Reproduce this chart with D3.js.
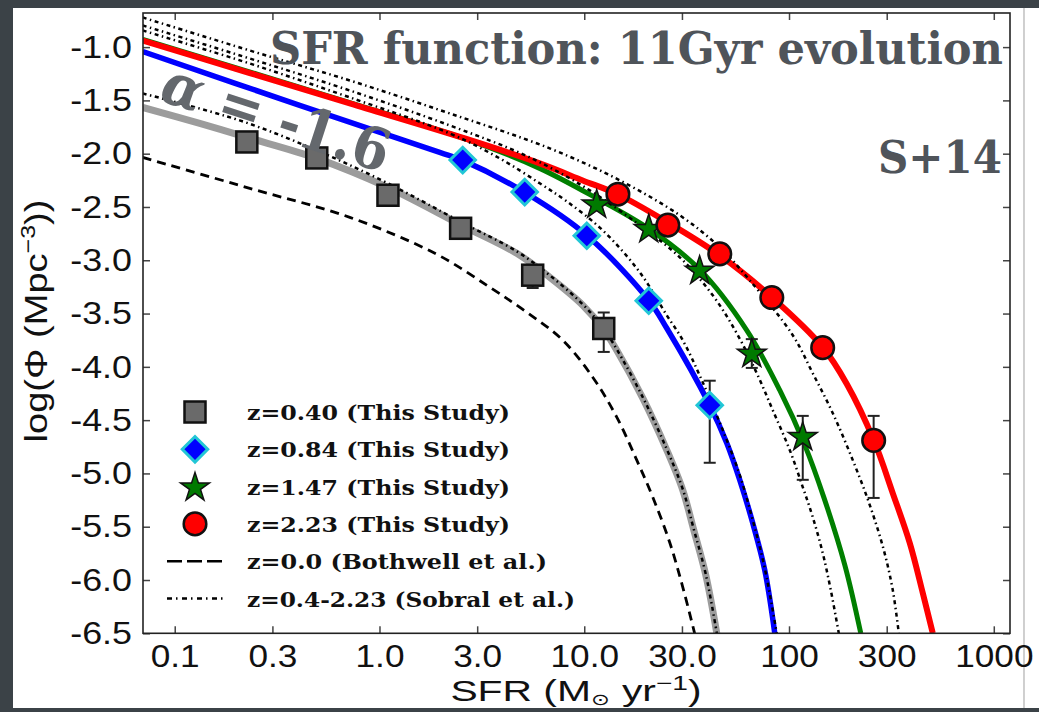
<!DOCTYPE html>
<html><head><meta charset="utf-8">
<script src="https://cdn.jsdelivr.net/npm/d3@7"></script>
<style>html,body{margin:0;padding:0;background:#3b4247;} svg{display:block;}</style>
</head><body>
<svg id="chart" width="1039" height="712"></svg>
<script>
// ---------- axes ----------
const xDomain = [0.07, 1200];
const yDomain = [-6.5, -0.68];
const xTicks = [0.1, 0.3, 1, 3, 10, 30, 100, 300, 1000];
const xTickLabels = ["0.1", "0.3", "1.0", "3.0", "10.0", "30.0", "100", "300", "1000"];
const yTicks = [-1.0, -1.5, -2.0, -2.5, -3.0, -3.5, -4.0, -4.5, -5.0, -5.5, -6.0, -6.5];
const yTickLabels = ["-1.0", "-1.5", "-2.0", "-2.5", "-3.0", "-3.5", "-4.0", "-4.5", "-5.0", "-5.5", "-6.0", "-6.5"];

// ---------- data points (this study) ----------
const z040SFR = [0.225, 0.494, 1.10, 2.49, 5.60, 12.45];
const z040Phi = [-1.89, -2.04, -2.39, -2.70, -3.14, -3.64];
const z040Hi  = [null, null, null, null, -3.10, -3.49];
const z040Lo  = [null, null, null, null, -3.26, -3.86];

const z084SFR = [2.55, 5.12, 10.29, 20.65, 41.0];
const z084Phi = [-2.06, -2.36, -2.77, -3.38, -4.36];
const z084Hi  = [null, null, null, null, -4.13];
const z084Lo  = [null, null, null, null, -4.90];

const z147SFR = [11.5, 20.65, 36.6, 65.8, 116.7];
const z147Phi = [-2.47, -2.70, -3.09, -3.87, -4.65];
const z147Hi  = [null, null, null, -3.74, -4.46];
const z147Lo  = [null, null, null, -4.01, -5.06];

const z223SFR = [14.6, 25.6, 45.9, 82.4, 146, 259];
const z223Phi = [-2.38, -2.67, -2.94, -3.35, -3.82, -4.69];
const z223Hi  = [null, null, null, null, null, -4.46];
const z223Lo  = [null, null, null, null, null, -5.23];

// ---------- fitted curves ----------
const fit040SFR = [0.0698, 0.1325, 0.225, 0.494, 1.097, 2.52, 4.68, 6.78, 9.83, 12.31, 14.41, 19.31, 25.29, 30.27, 34.26, 39.21, 44.4];
const fit040Phi = [-1.566, -1.716, -1.847, -2.044, -2.316, -2.672, -2.935, -3.160, -3.422, -3.638, -3.844, -4.294, -4.781, -5.156, -5.531, -5.953, -6.5];

const fit084SFR = [0.0698, 0.4077, 1.969, 2.55, 5.12, 10.29, 20.65, 25.3, 41.0, 49.7, 57.5, 66.5, 76.1, 85.2];
const fit084Phi = [-1.041, -1.547, -1.988, -2.063, -2.363, -2.766, -3.375, -3.638, -4.360, -4.716, -5.063, -5.466, -5.906, -6.5];

const fit147SFR = [0.0698, 0.716, 2.76, 6.06, 11.5, 20.65, 36.6, 62.2, 90.1, 119.4, 147.8, 187.3, 224.1];
const fit147Phi = [-0.928, -1.520, -1.876, -2.138, -2.419, -2.703, -3.087, -3.657, -4.219, -4.734, -5.222, -5.860, -6.5];

const fit223SFR = [0.0698, 0.2325, 0.716, 2.61, 6.06, 9.83, 14.58, 25.57, 45.9, 82.4, 146.1, 191.5, 259.4, 321.1, 388.9, 450.0, 503.6];
const fit223Phi = [-0.938, -1.243, -1.529, -1.857, -2.091, -2.251, -2.382, -2.645, -2.954, -3.347, -3.816, -4.160, -4.688, -5.185, -5.654, -6.122, -6.5];

// Bothwell et al. z=0.0
const bothSFR = [0.0698, 0.2325, 0.716, 1.904, 3.456, 5.24, 7.85, 11.0, 14.41, 18.05, 21.6, 26.2, 30.27, 34.6];
const bothPhi = [-2.035, -2.325, -2.597, -2.944, -3.253, -3.488, -3.75, -4.097, -4.472, -4.875, -5.222, -5.653, -6.066, -6.5];

// Sobral et al. z=0.4, 0.84, 1.47, 2.23
const sob040SFR = [0.0698, 0.2077, 0.494, 1.097, 2.52, 4.68, 6.78, 9.83, 12.31, 14.41, 19.31, 25.29, 30.27, 34.26, 39.21, 44.4];
const sob040Phi = [-1.435, -1.688, -1.969, -2.278, -2.644, -2.916, -3.141, -3.413, -3.629, -3.835, -4.285, -4.772, -5.147, -5.522, -5.944, -6.5];
const sob084SFR = [0.0698, 0.2325, 0.716, 2.203, 3.867, 6.06, 8.21, 12.31, 18.67, 25.29, 30.27, 37.5, 47.5, 57.5, 66.5, 76.1, 87.1];
const sob084Phi = [-0.844, -1.154, -1.472, -1.810, -2.044, -2.278, -2.447, -2.719, -3.113, -3.516, -3.750, -4.125, -4.594, -5.016, -5.438, -5.888, -6.5];
const sob147SFR = [0.0698, 0.2325, 0.716, 2.203, 5.42, 10.64, 18.67, 29.27, 42.43, 55.55, 69.6, 83.3, 100.9, 116.7, 130.6, 146.1, 159.9, 175.0];
const sob147Phi = [-0.797, -1.107, -1.407, -1.735, -2.035, -2.344, -2.672, -2.972, -3.329, -3.685, -4.060, -4.407, -4.782, -5.128, -5.410, -5.747, -6.094, -6.5];
const sob223SFR = [0.0698, 0.2325, 0.716, 2.203, 6.78, 14.91, 29.27, 45.9, 64.3, 104.3, 130.6, 163.6, 204.8, 248.0, 290.3, 321.1, 343.6];
const sob223Phi = [-0.722, -1.032, -1.313, -1.622, -1.950, -2.250, -2.578, -2.878, -3.188, -3.703, -4.060, -4.435, -4.875, -5.297, -5.719, -6.094, -6.5];

const legendLabels = ["z=0.40 (This Study)", "z=0.84 (This Study)", "z=1.47 (This Study)", "z=2.23 (This Study)", "z=0.0 (Bothwell et al.)", "z=0.4-2.23 (Sobral et al.)"];
const titleText = "SFR function: 11Gyr evolution";
const refText = "S+14";

// ---------- layout ----------
const L = 143, R = 1010, T = 13, B = 633.3;
const svg = d3.select('#chart');
svg.append('rect').attr('width', 1039).attr('height', 712).attr('fill', '#3b4247');
svg.append('rect').attr('x', 13).attr('y', 8).attr('width', 1026).attr('height', 700).attr('fill', '#ffffff');
svg.append('line').attr('x1', 1024).attr('x2', 1024).attr('y1', 8).attr('y2', 708).attr('stroke', '#b0b0b0').attr('stroke-width', 1.2);

const x = d3.scaleLog().domain(xDomain).range([L, R]);
const y = d3.scaleLinear().domain(yDomain).range([B, T]);

svg.append('defs').append('clipPath').attr('id', 'clip')
  .append('rect').attr('x', L).attr('y', T).attr('width', R - L).attr('height', B - T);

const sansFont = "'Liberation Sans', Arial, Helvetica, sans-serif";
const serifFont = "'DejaVu Serif', serif";

function stretch(sel, k) {
  sel.each(function () {
    const w = this.getComputedTextLength();
    d3.select(this).attr('textLength', w * k).attr('lengthAdjust', 'spacingAndGlyphs');
  });
}
function styleAxis(g) {
  g.select('.domain').remove();
  g.selectAll('.tick line').attr('stroke', '#444').attr('stroke-width', 1.5);
  g.selectAll('.tick text').attr('fill', '#111').attr('font-family', sansFont).attr('font-size', 32);
}

const gxB = svg.append('g').attr('transform', `translate(0,${B})`)
  .call(d3.axisBottom(x).tickValues(xTicks).tickFormat((d, i) => xTickLabels[i]).tickSizeInner(-7).tickSizeOuter(0).tickPadding(11));
styleAxis(gxB); stretch(gxB.selectAll('.tick text'), 1.1);
const gxT = svg.append('g').attr('transform', `translate(0,${T})`)
  .call(d3.axisTop(x).tickValues(xTicks).tickFormat('').tickSizeInner(-7).tickSizeOuter(0));
styleAxis(gxT);
const gyL = svg.append('g').attr('transform', `translate(${L},0)`)
  .call(d3.axisLeft(y).tickValues(yTicks).tickFormat((d, i) => yTickLabels[i]).tickSizeInner(-7).tickSizeOuter(0).tickPadding(11));
styleAxis(gyL); stretch(gyL.selectAll('.tick text'), 1.12);
const gyR = svg.append('g').attr('transform', `translate(${R},0)`)
  .call(d3.axisRight(y).tickValues(yTicks).tickFormat('').tickSizeInner(-7).tickSizeOuter(0));
styleAxis(gyR);

// ---------- curves ----------
const line = d3.line().x(d => x(d[0])).y(d => y(d[1])).curve(d3.curveCatmullRom.alpha(0.5));
const plotG = svg.append('g').attr('clip-path', 'url(#clip)');
function curve(sfr, phi, color, width, dash) {
  plotG.append('path').datum(d3.zip(sfr, phi)).attr('d', line)
    .attr('fill', 'none').attr('stroke', color).attr('stroke-width', width)
    .attr('stroke-dasharray', dash || null).attr('stroke-linejoin', 'round');
}
const dashPat = '9,6';
const dotPat = '4,3.5,1.5,3.5';
curve(bothSFR, bothPhi, '#000', 2.8, dashPat);
curve(fit040SFR, fit040Phi, '#9c9c9c', 7);
curve(fit084SFR, fit084Phi, '#0000ff', 5.5);
curve(fit147SFR, fit147Phi, '#007f00', 5);
curve(fit223SFR, fit223Phi, '#ff0000', 6);
curve(sob040SFR, sob040Phi, '#000', 2.5, dotPat);
curve(sob084SFR, sob084Phi, '#000', 2.5, dotPat);
curve(sob147SFR, sob147Phi, '#000', 2.5, dotPat);
curve(sob223SFR, sob223Phi, '#000', 2.5, dotPat);

// ---------- error bars ----------
const errG = svg.append('g');
function errbars(sfr, hi, lo) {
  sfr.forEach((s, i) => {
    if (hi[i] == null) return;
    const cx = x(s);
    errG.append('line').attr('x1', cx).attr('x2', cx).attr('y1', y(hi[i])).attr('y2', y(lo[i]));
    [hi[i], lo[i]].forEach(v => errG.append('line').attr('x1', cx - 6).attr('x2', cx + 6).attr('y1', y(v)).attr('y2', y(v)));
  });
}
errbars(z040SFR, z040Hi, z040Lo);
errbars(z084SFR, z084Hi, z084Lo);
errbars(z147SFR, z147Hi, z147Lo);
errbars(z223SFR, z223Hi, z223Lo);
errG.selectAll('line').attr('stroke', '#222').attr('stroke-width', 2);

// ---------- markers ----------
const mkG = svg.append('g');
function marker(type, cx, cy) {
  if (type === 'square') {
    mkG.append('rect').attr('x', cx - 10.5).attr('y', cy - 10.5).attr('width', 21).attr('height', 21)
      .attr('fill', '#6a6a6a').attr('stroke', '#111').attr('stroke-width', 2.5);
  } else if (type === 'diamond') {
    mkG.append('path').attr('d', d3.symbol(d3.symbolSquare, 18 * 18)())
      .attr('transform', `translate(${cx},${cy}) rotate(45)`)
      .attr('fill', '#0000ff').attr('stroke', '#22c6d6').attr('stroke-width', 3);
  } else if (type === 'star') {
    mkG.append('path').attr('d', d3.symbol(d3.symbolStar, 260)())
      .attr('transform', `translate(${cx},${cy + 1})`)
      .attr('fill', '#007a00').attr('stroke', '#111').attr('stroke-width', 1.5).attr('stroke-linejoin', 'miter');
  } else {
    mkG.append('circle').attr('cx', cx).attr('cy', cy).attr('r', 11.3)
      .attr('fill', '#ff0000').attr('stroke', '#111').attr('stroke-width', 2.5);
  }
}
z040SFR.forEach((s, i) => marker('square', x(s), y(z040Phi[i])));
z084SFR.forEach((s, i) => marker('diamond', x(s), y(z084Phi[i])));
z147SFR.forEach((s, i) => marker('star', x(s), y(z147Phi[i])));
z223SFR.forEach((s, i) => marker('circle', x(s), y(z223Phi[i])));

// ---------- annotations ----------
svg.append('text').attr('x', 270).attr('y', 64).text(titleText)
  .attr('font-family', serifFont).attr('font-weight', 'bold').attr('font-size', 45)
  .attr('fill', '#4f545a').attr('textLength', 733).attr('lengthAdjust', 'spacingAndGlyphs');
svg.append('text').attr('x', 878).attr('y', 173).text(refText)
  .attr('font-family', serifFont).attr('font-weight', 'bold').attr('font-size', 45)
  .attr('fill', '#4f545a').attr('textLength', 124).attr('lengthAdjust', 'spacingAndGlyphs');

function fitWidth(textSel, target) {
  const w = textSel.node().getBBox().width;
  textSel.attr('transform', `scale(${target / w},1)`);
}
const alphaG = svg.append('g').attr('transform', 'translate(158,100) rotate(18)');
const alphaT = alphaG.append('text').attr('font-family', serifFont).attr('font-weight', 'bold')
  .attr('font-size', 58).attr('fill', '#64686d');
alphaT.append('tspan').attr('font-style', 'italic').text('α');
alphaT.append('tspan').text(' = -1.6');
fitWidth(alphaT, 236);

// axis titles
const xlG = svg.append('g').attr('transform', 'translate(576,701)');
const xlT = xlG.append('text').attr('text-anchor', 'middle').attr('font-family', sansFont)
  .attr('font-size', 29).attr('fill', '#111');
xlT.append('tspan').text('SFR (M');
xlT.append('tspan').attr('font-size', 16).attr('dy', 4).text('⊙');
xlT.append('tspan').attr('dy', -4).text(' yr');
xlT.append('tspan').attr('font-size', 20).attr('dy', -11).text('−1');
xlT.append('tspan').attr('dy', 11).text(')');
fitWidth(xlT, 250);

const ylG = svg.append('g').attr('transform', 'translate(47,321) rotate(-90)');
const ylT = ylG.append('text').attr('text-anchor', 'middle').attr('font-family', sansFont)
  .attr('font-size', 32).attr('fill', '#111');
ylT.append('tspan').text('log(Φ (Mpc');
ylT.append('tspan').attr('font-size', 21).attr('dy', -12).text('−3');
ylT.append('tspan').attr('dy', 12).text('))');
fitWidth(ylT, 243);

// ---------- legend ----------
const legG = svg.append('g');
const legX = 195, legY0 = 412, legStep = 37.3, legTextX = 247;
const legWidths = [263, 263, 263, 263, 300, 328];
const legTypes = ['square', 'diamond', 'star', 'circle'];
legendLabels.forEach((lab, i) => {
  const ly = legY0 + i * legStep;
  if (i < 4) marker(legTypes[i], legX, ly);
  else legG.append('line').attr('x1', 167).attr('x2', 223).attr('y1', ly).attr('y2', ly)
    .attr('stroke', '#000').attr('stroke-width', 2.6)
    .attr('stroke-dasharray', i === 4 ? '15,5' : '5,4,1.5,4.5');
  legG.append('text').attr('x', legTextX).attr('y', ly + 8).text(lab)
    .attr('font-family', serifFont).attr('font-weight', 'bold').attr('font-size', 20)
    .attr('fill', '#111').attr('textLength', legWidths[i]).attr('lengthAdjust', 'spacingAndGlyphs');
});

// frame
svg.append('rect').attr('x', L).attr('y', T).attr('width', R - L).attr('height', B - T)
  .attr('fill', 'none').attr('stroke', '#222').attr('stroke-width', 1.6);
</script>
</body></html>
